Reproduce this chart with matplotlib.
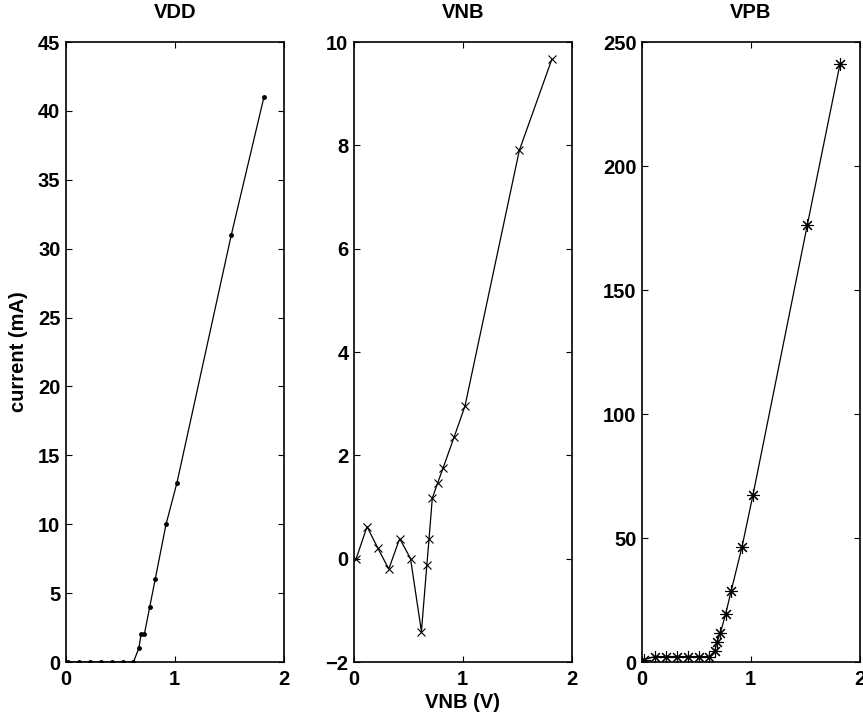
import matplotlib

matplotlib.use("Agg")

import matplotlib.pyplot as plt


# sweep voltage (V), shared by all three supplies
VOLTAGE = [0.02, 0.12, 0.22, 0.32, 0.42, 0.52, 0.62, 0.67, 0.69, 0.72,
           0.77, 0.82, 0.92, 1.02, 1.52, 1.82]

VDD_CURRENT = [0, 0, 0, 0, 0, 0, 0, 1, 2, 2, 4, 6, 10, 13, 31, 41]
VNB_CURRENT = [0, 0.62, 0.2, -0.2, 0.39, 0, -1.41, -0.12, 0.38, 1.17,
               1.47, 1.76, 2.35, 2.95, 7.9, 9.67]
VPB_CURRENT = [1, 2.2, 2.2, 2.2, 2.2, 2.2, 2.2, 4.5, 8.2, 11.6,
               19.5, 28.7, 46.5, 67.3, 176.2, 241]

TITLES = ["VDD", "VNB", "VPB"]
Y_LIMITS = [(0, 45), (-2, 10), (0, 250)]
Y_TICKS = [
    [0, 5, 10, 15, 20, 25, 30, 35, 40, 45],
    [-2, 0, 2, 4, 6, 8, 10],
    [0, 50, 100, 150, 200, 250],
]
X_TICKS = [0, 1, 2]

FONT = ["Liberation Sans", "DejaVu Sans"]
FONT_SIZE = 14.5


def style_axes(ax, title, ylim, yticks):

    ax.set_xlim(0, 2)
    ax.set_ylim(*ylim)
    ax.set_xticks(X_TICKS)
    ax.set_yticks(yticks)
    ax.tick_params(direction="in", top=True, right=True, length=4.5,
                   width=0.8, labelsize=FONT_SIZE)
    ax.tick_params(axis="x", pad=6)
    ax.tick_params(axis="y", pad=4)
    for label in ax.get_xticklabels() + ax.get_yticklabels():
        label.set_fontweight("bold")
        label.set_family(FONT)
    for spine in ax.spines.values():
        spine.set_linewidth(1.2)
    ax.set_title(title, fontsize=FONT_SIZE, fontweight="bold",
                 family=FONT, pad=17)


def main():

    fig = plt.figure(figsize=(8.63, 7.17), dpi=100)

    lefts = [66 / 863, 354 / 863, 642 / 863]
    width = 217.5 / 863
    bottom = 55 / 717
    height = 620 / 717

    axes = [fig.add_axes([left, bottom, width, height]) for left in lefts]

    axes[0].plot(VOLTAGE, VDD_CURRENT, color="black", linewidth=0.9,
                 marker=".", markersize=5)
    axes[1].plot(VOLTAGE, VNB_CURRENT, color="black", linewidth=0.9,
                 marker="x", markersize=6, markeredgewidth=0.8)
    axes[2].plot(VOLTAGE, VPB_CURRENT, color="black", linewidth=0.9,
                 marker=(8, 2, 0), markersize=9, markeredgewidth=0.8)

    for ax, title, ylim, yticks in zip(axes, TITLES, Y_LIMITS, Y_TICKS):
        style_axes(ax, title, ylim, yticks)

    axes[0].set_ylabel("current (mA)", fontsize=FONT_SIZE, fontweight="bold",
                       family=FONT, labelpad=7)
    axes[1].set_xlabel("VNB (V)", fontsize=FONT_SIZE, fontweight="bold",
                       family=FONT, labelpad=3)

    fig.savefig("out.png", dpi=100)
    plt.close(fig)


if __name__ == "__main__":
    main()
